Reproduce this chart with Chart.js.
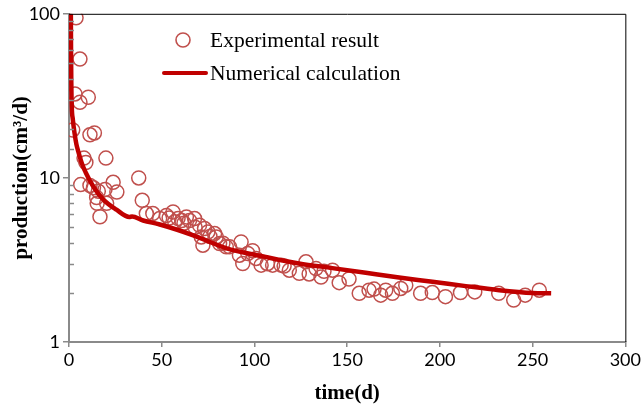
<!DOCTYPE html>
<html><head><meta charset="utf-8">
<script src="https://cdn.jsdelivr.net/npm/chart.js@4"></script>
<style>html,body{margin:0;padding:0;background:#fff}</style>
</head><body>
<canvas id="c" width="643" height="409"></canvas>
<script>
const expX=[3.8,5.9,3.2,5.9,10.4,2.0,11.3,13.7,8.1,9.1,19.9,6.3,11.3,13.2,15.8,19.4,23.8,25.8,14.9,15.2,20.3,16.7,37.6,39.5,41.7,45.2,48.9,52.5,54,56.1,57,58.8,60.8,62,63.3,65,67.7,68,70.4,73.1,71.3,74.9,76,79.4,72.2,81.2,83,84.8,78.5,86.6,92.8,91.9,96.4,99,93.7,100.9,103.6,107,109.8,114.4,116,118.8,124.2,127.8,129.5,133.2,135.9,137.5,142.1,145.7,151,156.5,161.8,164.5,168.1,170.8,174.4,178.9,181.6,189.6,195.9,203,211.1,218.8,231.7,239.8,246,253.6];
const expY=[94.6,53,32.5,28.9,31.0,19.6,18.3,18.8,13.2,12.4,13.2,9.1,9.0,8.7,8.3,8.5,9.4,8.2,7.6,7.0,7.0,5.8,10.0,7.3,6.06,6.06,5.65,5.9,5.7,6.2,5.4,5.65,5.5,5.3,5.78,5.5,5.65,5.0,5.14,4.91,4.37,4.68,4.4,4.37,3.89,3.98,4.0,3.8,4.58,3.8,4.07,3.38,3.46,3.6,3.01,3.23,2.94,3.0,2.94,2.94,2.9,2.74,2.62,3.08,2.6,2.8,2.49,2.7,2.74,2.30,2.42,1.98,2.07,2.1,1.93,2.07,1.98,2.12,2.22,1.98,2.0,1.89,2.0,2.02,1.98,1.80,1.93,2.07];
const calcX=[1.0,1.1,1.25,1.5,2,3,4,5,7,9,13,18.4,25.6,32.5,34,40,49,67,85,106,124,142,160,178,196,214,232,250,260];
const calcY=[100,60,38,27,23,18.7,16,14.5,12.2,10.8,8.9,7.4,6.4,5.78,5.82,5.5,5.2,4.47,3.72,3.30,3.01,2.82,2.64,2.47,2.33,2.19,2.07,1.99,1.98];
const xTicks=[0,50,100,150,200,250,300];
const yTicks=[1,10,100];
const seriesNames=['Experimental result','Numerical calculation'];

const GRAY='#8a8a8a';
const expPts=expX.map((x,i)=>({x:x,y:expY[i]}));
const calcPts=calcX.map((x,i)=>({x:x,y:calcY[i]}));

const framePlugin={
  id:'frame',
  afterDatasetsDraw(chart){
    const {ctx,chartArea:a,scales}=chart;
    const ys=scales.y;
    ctx.save();
    ctx.strokeStyle='#000';ctx.lineWidth=1;
    ctx.beginPath();
    ctx.moveTo(a.left,a.top+0.5);ctx.lineTo(a.right+0.5,a.top+0.5);
    ctx.lineTo(a.right+0.5,a.bottom);
    ctx.stroke();
    ctx.strokeStyle=GRAY;ctx.lineWidth=1.5;
    ys.ticks.forEach(t=>{
      const l=Math.log10(t.value);
      if(Math.abs(l-Math.round(l))>1e-9){
        const py=Math.round(ys.getPixelForValue(t.value))+0.5;
        ctx.beginPath();ctx.moveTo(a.left,py);ctx.lineTo(a.left+5,py);ctx.stroke();
      }
    });
    ctx.restore();
  },
  afterDraw(chart){
    const ctx=chart.ctx;
    ctx.save();
    ctx.font='21.5px "Liberation Serif"';
    ctx.fillStyle='#000';ctx.textBaseline='middle';ctx.textAlign='left';
    ctx.strokeStyle='#c0504d';ctx.lineWidth=1.6;
    ctx.beginPath();ctx.arc(183,40,7,0,Math.PI*2);ctx.stroke();
    ctx.fillText(seriesNames[0],210,41);
    ctx.strokeStyle='#c00000';ctx.lineWidth=4;ctx.lineCap='round';
    ctx.beginPath();ctx.moveTo(164,73);ctx.lineTo(206,73);ctx.stroke();
    ctx.fillText(seriesNames[1],210,74);
    ctx.restore();
  }
};

new Chart(document.getElementById('c'),{
  type:'scatter',
  data:{datasets:[
    {label:seriesNames[1],data:calcPts,showLine:true,borderColor:'#c00000',borderWidth:4.5,pointRadius:0,cubicInterpolationMode:'monotone',order:0,fill:false},
    {label:seriesNames[0],data:expPts,pointStyle:'circle',pointRadius:7,borderWidth:1.5,borderColor:'#c0504d',backgroundColor:'rgba(0,0,0,0)',order:1}
  ]},
  options:{
    responsive:false,animation:false,
    layout:{padding:{top:13,right:16,left:0,bottom:0}},
    plugins:{legend:{display:false},tooltip:{enabled:false}},
    scales:{
      x:{type:'linear',min:0,max:300,
        afterBuildTicks(s){s.ticks=xTicks.map(v=>({value:v}));},
        afterFit(s){s.height=67;},
        grid:{drawOnChartArea:false,drawTicks:true,tickLength:5,color:GRAY,lineWidth:1.5},
        border:{color:GRAY,width:2},
        ticks:{font:{family:'Lato',size:18},color:'#000',padding:2,maxRotation:0},
        title:{display:true,text:'time(d)',font:{family:'Liberation Serif',size:21,weight:'bold'},color:'#000',padding:{top:0,bottom:3}}
      },
      y:{type:'logarithmic',min:1,max:100,
        afterFit(s){s.width=69;},
        grid:{drawOnChartArea:false,drawTicks:true,tickLength:6,lineWidth:1.5,
          color:(c)=>{const v=c.tick?c.tick.value:1;const l=Math.log10(v);return Math.abs(l-Math.round(l))<1e-9?GRAY:'rgba(0,0,0,0)';}},
        border:{color:GRAY,width:2},
        ticks:{autoSkip:false,font:{family:'Lato',size:18},color:'#000',padding:3,
          callback:(v)=>yTicks.includes(v)?String(v):''},
        title:{display:true,text:'production(cm³/d)',font:{family:'Liberation Serif',size:21,weight:'bold'},color:'#000',padding:{top:9,bottom:0}}
      }
    }
  },
  plugins:[framePlugin]
});
</script>
</body></html>
